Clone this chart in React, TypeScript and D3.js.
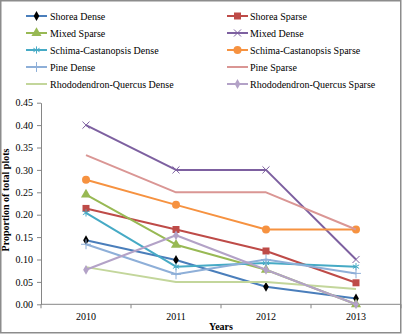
import React, { useRef, useEffect } from "react";
import * as d3 from "d3";

// Years on the x axis
const years = ["2010", "2011", "2012", "2013"];

// Proportion of total plots per forest type and density
const shoreaDense = [0.143, 0.099, 0.039, 0.013];
const shoreaSparse = [0.214, 0.167, 0.119, 0.048];
const mixedSparse = [0.245, 0.133, 0.077, 0.0];
const mixedDense = [0.4, 0.3, 0.3, 0.1];
const schimaDense = [0.204, 0.084, 0.092, 0.084];
const schimaSparse = [0.278, 0.222, 0.167, 0.167];
const pineDense = [0.134, 0.067, 0.1, 0.069];
const pineSparse = [0.333, 0.25, 0.25, 0.167];
const rhodoDense = [0.083, 0.05, 0.05, 0.034];
const rhodoSparse = [0.077, 0.154, 0.077, 0.0];

const yTicks = [0, 0.05, 0.1, 0.15, 0.2, 0.25, 0.3, 0.35, 0.4, 0.45];

type Marker = "diamond" | "square" | "triangle" | "times" | "asterisk" | "circle" | "plus" | "none";

interface Series {
  name: string;
  values: number[];
  color: string;
  marker: Marker;
  markerColor?: string;
}

const series: Series[] = [
  { name: "Shorea Dense", values: shoreaDense, color: "#4A7EBB", marker: "diamond", markerColor: "#000000" },
  { name: "Shorea Sparse", values: shoreaSparse, color: "#BE4B48", marker: "square" },
  { name: "Mixed Sparse", values: mixedSparse, color: "#98B954", marker: "triangle" },
  { name: "Mixed Dense", values: mixedDense, color: "#7D60A0", marker: "times" },
  { name: "Schima-Castanopsis Dense", values: schimaDense, color: "#46AAC5", marker: "asterisk" },
  { name: "Schima-Castanopsis Sparse", values: schimaSparse, color: "#F69240", marker: "circle" },
  { name: "Pine Dense", values: pineDense, color: "#8EAFD8", marker: "plus" },
  { name: "Pine Sparse", values: pineSparse, color: "#DA9694", marker: "none" },
  { name: "Rhododendron-Quercus Dense", values: rhodoDense, color: "#C3D69B", marker: "none" },
  { name: "Rhododendron-Quercus Sparse", values: rhodoSparse, color: "#B3A2C7", marker: "diamond" },
];

const W = 402;
const H = 335;
const FONT = "'Liberation Serif', 'Times New Roman', serif";

function drawMarker(g: d3.Selection<SVGGElement, unknown, null, undefined>, s: Series, x: number, y: number) {
  const fill = s.markerColor || s.color;
  const sym = d3.symbol();
  const at = `translate(${x},${y})`;
  switch (s.marker) {
    case "diamond":
      g.append("path").attr("d", sym.type(d3.symbolDiamond).size(28)()).attr("transform", at).attr("fill", fill);
      break;
    case "square":
      g.append("path").attr("d", sym.type(d3.symbolSquare).size(49)()).attr("transform", at).attr("fill", fill);
      break;
    case "triangle":
      g.append("path").attr("d", sym.type(d3.symbolTriangle).size(44)()).attr("transform", at).attr("fill", fill);
      break;
    case "circle":
      g.append("circle").attr("cx", x).attr("cy", y).attr("r", 4).attr("fill", fill);
      break;
    case "times":
      g.append("path").attr("d", sym.type(d3.symbolTimes).size(34)()).attr("transform", at).attr("fill", "none").attr("stroke", fill).attr("stroke-width", 1);
      break;
    case "asterisk":
      g.append("path").attr("d", sym.type(d3.symbolAsterisk).size(36)()).attr("transform", at).attr("fill", "none").attr("stroke", fill).attr("stroke-width", 1);
      break;
    case "plus":
      g.append("path").attr("d", sym.type(d3.symbolPlus).size(34)()).attr("transform", at).attr("fill", "none").attr("stroke", fill).attr("stroke-width", 1);
      break;
    default:
      break;
  }
}

const App: React.FC = () => {
  const svgRef = useRef<SVGSVGElement>(null);

  useEffect(() => {
    if (!svgRef.current) return;
    const svg = d3.select(svgRef.current);
    svg.selectAll("*").remove();

    const plot = { left: 41, right: 401, top: 102.7, bottom: 304.3 };

    // Outer frame
    svg
      .append("rect")
      .attr("x", 0.75)
      .attr("y", 0.75)
      .attr("width", 400)
      .attr("height", 332)
      .attr("fill", "white")
      .attr("stroke", "#8c8c8c")
      .attr("stroke-width", 1.5);

    const x = d3.scaleBand<string>().domain(years).range([plot.left, plot.right]);
    const y = d3.scaleLinear().domain([0, 0.45]).range([plot.bottom, plot.top]);

    // Y axis
    const yAxis = svg
      .append("g")
      .attr("transform", `translate(${plot.left},0)`)
      .call(
        d3
          .axisLeft(y)
          .tickValues(yTicks)
          .tickFormat(d3.format(".2f"))
          .tickSize(4)
          .tickSizeOuter(0)
          .tickPadding(4)
      );
    yAxis.select(".domain").attr("stroke", "#868686");
    yAxis.selectAll(".tick line").attr("stroke", "#868686");
    yAxis.selectAll("text").attr("font-family", FONT).attr("font-size", 10).attr("fill", "#000");

    // X axis with ticks at category boundaries
    const xg = svg.append("g");
    xg.append("line")
      .attr("x1", plot.left)
      .attr("x2", plot.right)
      .attr("y1", plot.bottom)
      .attr("y2", plot.bottom)
      .attr("stroke", "#868686");
    const bounds = years.map((yr) => x(yr) as number).concat([plot.right]);
    bounds.forEach((bx) => {
      xg.append("line")
        .attr("x1", bx)
        .attr("x2", bx)
        .attr("y1", plot.bottom)
        .attr("y2", plot.bottom + 4)
        .attr("stroke", "#868686");
    });
    years.forEach((yr) => {
      xg.append("text")
        .attr("x", (x(yr) as number) + x.bandwidth() / 2)
        .attr("y", 320)
        .attr("text-anchor", "middle")
        .attr("font-family", FONT)
        .attr("font-size", 10)
        .text(yr);
    });

    // Axis titles
    svg
      .append("text")
      .attr("transform", `translate(9,200) rotate(-90)`)
      .attr("text-anchor", "middle")
      .attr("font-family", FONT)
      .attr("font-size", 10)
      .attr("font-weight", "bold")
      .text("Proportion of total plots");
    svg
      .append("text")
      .attr("x", 221)
      .attr("y", 330)
      .attr("text-anchor", "middle")
      .attr("font-family", FONT)
      .attr("font-size", 10)
      .attr("font-weight", "bold")
      .text("Years");

    // Series lines and markers
    const cx = (i: number) => (x(years[i]) as number) + x.bandwidth() / 2;
    const line = d3
      .line<number>()
      .x((_, i) => cx(i))
      .y((d) => y(d));

    const lines = svg.append("g");
    series.forEach((s) => {
      const g = lines.append("g");
      g.append("path")
        .datum(s.values)
        .attr("fill", "none")
        .attr("stroke", s.color)
        .attr("stroke-width", 2)
        .attr("stroke-linejoin", "round")
        .attr("d", line);
      s.values.forEach((v, i) => drawMarker(g, s, cx(i), y(v)));
    });

    // Legend in two columns
    const legend = svg.append("g");
    series.forEach((s, i) => {
      const col = i % 2;
      const row = Math.floor(i / 2);
      const lx = col === 0 ? 26 : 227;
      const ly = 16 + row * 17;
      const g = legend.append("g");
      g.append("line")
        .attr("x1", lx)
        .attr("x2", lx + 21)
        .attr("y1", ly)
        .attr("y2", ly)
        .attr("stroke", s.color)
        .attr("stroke-width", 2);
      drawMarker(g, s, lx + 10.5, ly);
      g.append("text")
        .attr("x", col === 0 ? 50 : 250)
        .attr("y", ly + 3.5)
        .attr("font-family", FONT)
        .attr("font-size", 10)
        .attr("fill", "#000")
        .text(s.name);
    });
  }, []);

  return (
    <svg
      ref={svgRef}
      width={W}
      height={H}
      style={{ position: "absolute", left: 0, top: 0 }}
    />
  );
};

export default App;
